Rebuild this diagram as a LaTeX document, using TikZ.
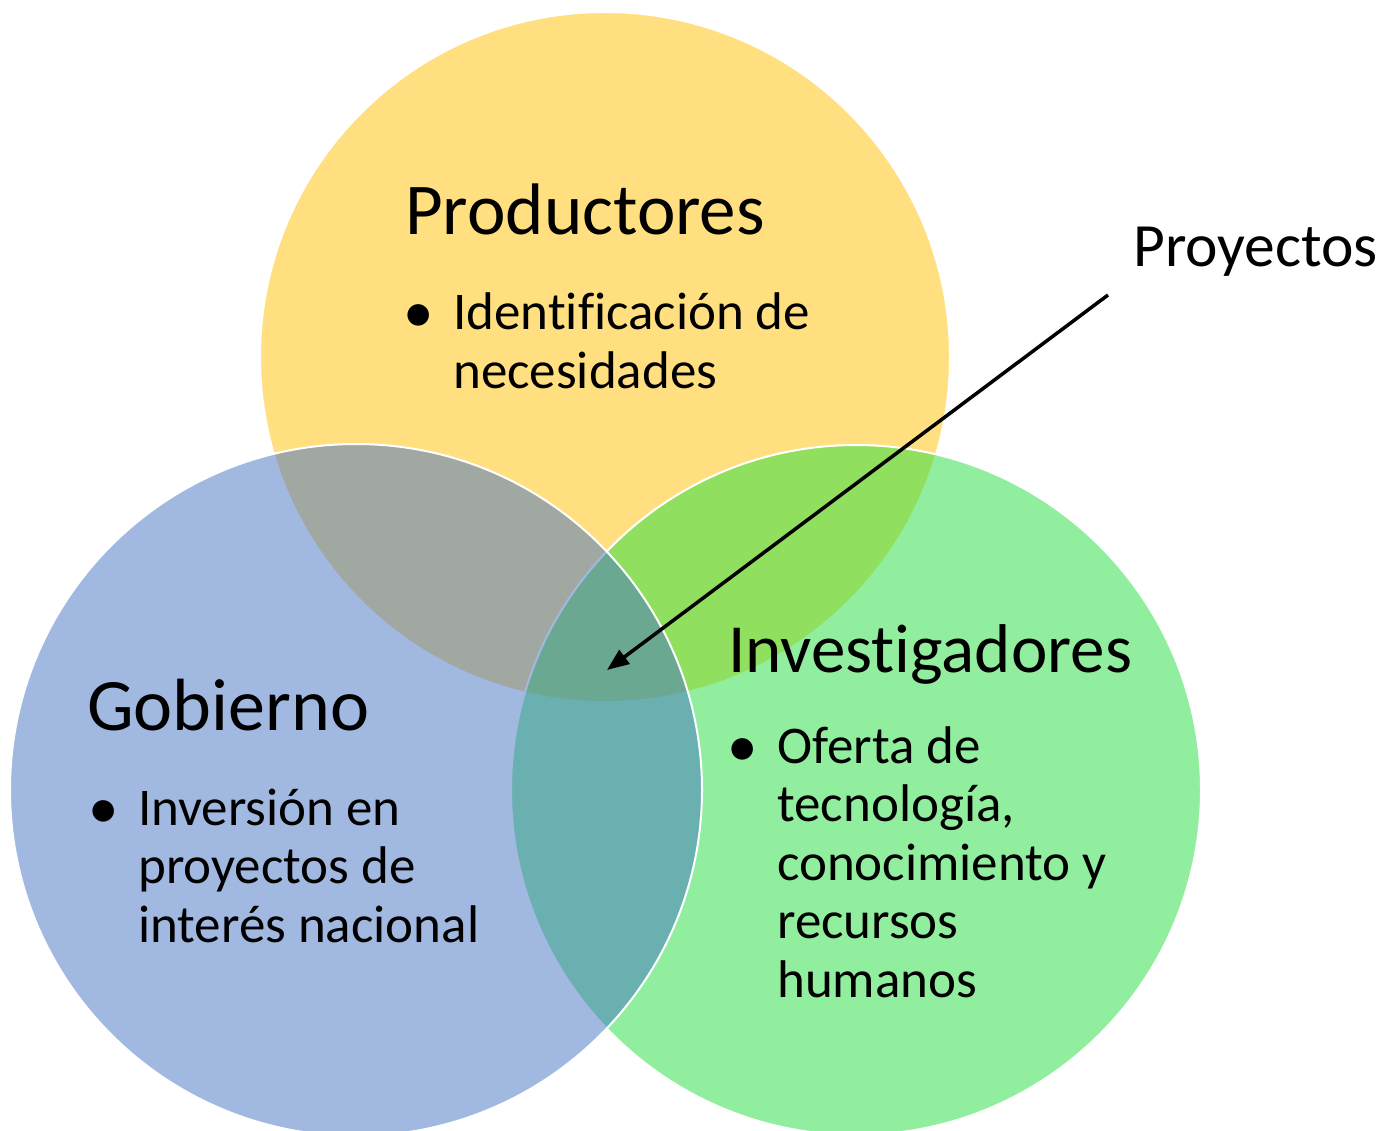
\documentclass[tikz,border=0pt]{standalone}
\usepackage{fontspec}
\usepackage{graphicx}
\setmainfont[Ligatures=NoCommon]{Carlito}
\usetikzlibrary{arrows.meta}

\definecolor{prodyellow}{HTML}{FFC000}
\definecolor{gobblue}{HTML}{4472C4}
\definecolor{invgreen}{RGB}{37,222,64}

\newcommand{\bigbullet}{\raisebox{-3pt}{\scalebox{1.15}{\textbullet}}}

\begin{document}
\begin{tikzpicture}[x=1pt,y=-1pt]

		\tikzset{venn/.style = {shape=circle,draw=white,line width=2pt,fill opacity=0.5,minimum size=690pt,inner sep=0pt}}
		\tikzset{title/.style = {anchor=base west,inner sep=0pt,font=\fontsize{72}{86}\selectfont}}
		\tikzset{items/.style = {anchor=base west,inner sep=0pt,font=\fontsize{53}{58.5}\selectfont}}
		\tikzset{edge/.style = {-{Triangle[length=22pt,width=17pt]},line width=3.5pt}}
		
		\useasboundingbox (0,0) rectangle (1386,1131);
		
		% the three sets
		\node[venn,fill=prodyellow] (P) at (605,357) {};
		\node[venn,fill=invgreen] (I) at (856,790) {};
		\node[venn,fill=gobblue,minimum size=692pt] (G) at (356,790) {};
		
		\node[title,font=\fontsize{73}{86}\selectfont] (Ptitle) at (405,235) {Productores};
		\node[items] (Pitems) at (403,330) {\begin{tabular}[t]{@{}p{50pt}@{}l@{}}\bigbullet & Identificación de\\ & necesidades\end{tabular}};
		
		\node[title,font=\fontsize{74}{86}\selectfont] (Gtitle) at (87,730) {Gobierno};
		\node[items] (Gitems) at (88,825) {\begin{tabular}[t]{@{}p{50pt}@{}l@{}}\bigbullet & Inversión en\\ & proyectos de\\ & interés nacional\end{tabular}};
		
		\node[title,font=\fontsize{69}{86}\selectfont] (Ititle) at (728,672) {Investigadores};
		\node[items] (Iitems) at (727,763) {\begin{tabular}[t]{@{}p{50pt}@{}l@{}}\bigbullet & Oferta de\\ & tecnología,\\ & conocimiento y\\ & recursos\\ & humanos\end{tabular}};
		
		\node[anchor=base west,inner sep=0pt,font=\fontsize{61.5}{72}\selectfont] (Proj) at (1133,267) {Proyectos};
		
		\coordinate (from) at (1108,295);
		\coordinate (to) at (607,670);
		\draw[edge] (from) -- (to);
		
\end{tikzpicture}
\end{document}
